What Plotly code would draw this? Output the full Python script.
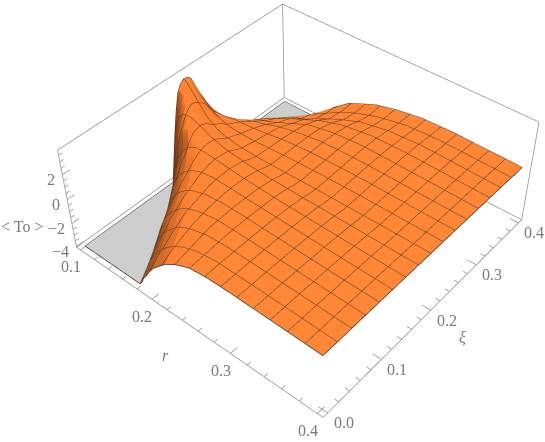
import plotly.graph_objects as go

# ---- data ----
xi_values = [0, .025, .05, .075, .1, .125, .15, .1625, .175, .18125, .1875, .19375, .2, .20625, .2125, .225, .25, .275, .3, .325, .35, .375, .4]
# smallest r drawn on each xi row (where the surface leaves the clipped floor or the r=0.1 edge)
r_start = [.178, .168, .157, .145, .135, .122, .109, .1, .1, .1, .1, .1, .1, .1, .1, .1, .1, .1, .1, .1, .115, .13, .145]
# fraction of the way from r_start to 0.4 for each column
r_fraction = [0, .015, .03, .05, .075, .1, .14, .18, .24, .32, .42, .54, .68, .84, 1]
to_values = [
    [-4, -3.7, -3.2, -2.8, -2.2, -1.7, -1.15, -.6, -.05, .45, .62, .62, .58, .52, .45],
    [-4, -3.5, -3, -2.5, -2, -1.5, -.9, -.4, .1, .5, .68, .65, .6, .52, .45],
    [-4, -3.4, -2.9, -2.3, -1.7, -1.2, -.6, -.1, .3, .62, .72, .68, .62, .53, .45],
    [-4, -3.3, -2.7, -2, -1.4, -.9, -.3, .15, .5, .75, .76, .7, .63, .53, .45],
    [-4, -3.2, -2.4, -1.7, -1, -.5, .05, .4, .7, .82, .8, .72, .63, .53, .45],
    [-4, -3, -2.1, -1.3, -.6, -.1, .45, .75, .92, .88, .8, .72, .62, .53, .45],
    [-4, -2.8, -1.6, -.6, .2, .7, 1.1, 1.15, 1.05, .9, .78, .68, .6, .52, .45],
    [-4, -1.8, -.4, .6, 1.2, 1.5, 1.5, 1.3, 1.05, .85, .72, .63, .57, .5, .45],
    [-.2, .8, 1.5, 1.9, 2, 1.9, 1.6, 1.25, .95, .75, .63, .58, .54, .49, .45],
    [1.5, 2.0, 2.3, 2.4, 2.2, 1.9, 1.45, 1.1, .8, .63, .55, .52, .5, .47, .45],
    [2.8, 2.9, 2.9, 2.7, 2.3, 1.85, 1.3, .95, .65, .52, .48, .47, .47, .46, .45],
    [3.3, 3.25, 3.0, 2.65, 2.1, 1.6, 1.05, .75, .52, .42, .42, .44, .45, .45, .44],
    [3.5, 3.3, 2.95, 2.5, 1.9, 1.35, .85, .6, .42, .36, .38, .42, .44, .44, .44],
    [3.45, 3.2, 2.8, 2.3, 1.7, 1.2, .72, .5, .36, .33, .37, .41, .44, .44, .44],
    [3.2, 2.9, 2.5, 2.0, 1.45, 1.02, .6, .42, .31, .32, .37, .42, .45, .45, .44],
    [1.8, 1.6, 1.3, 1.0, .65, .45, .25, .18, .18, .28, .38, .45, .48, .46, .44],
    [-.8, -.7, -.6, -.45, -.35, -.25, -.2, -.15, 0, .25, .42, .5, .52, .47, .44],
    [-2.2, -2.0, -1.8, -1.5, -1.25, -1.05, -.8, -.6, -.2, .15, .45, .56, .55, .48, .43],
    [-3.2, -2.9, -2.6, -2.3, -2, -1.75, -1.5, -1.2, -.7, 0, .4, .6, .58, .5, .43],
    [-4, -3.6, -3.2, -2.9, -2.6, -2.35, -2, -1.6, -1.1, -.4, .2, .55, .6, .52, .43],
    [-4, -3.7, -3.4, -3.1, -2.8, -2.55, -2.3, -2, -1.4, -.7, 0, .42, .58, .5, .42],
    [-4, -3.8, -3.5, -3.2, -2.9, -2.6, -2.2, -1.8, -1.2, -.6, -.05, .38, .52, .47, .4],
    [-4, -3.8, -3.5, -3.1, -2.7, -2.3, -1.8, -1.3, -.85, -.3, .1, .42, .5, .45, .4],
]
r_major = [.1, .2, .3, .4]
r_minor = [.12, .14, .16, .18, .22, .24, .26, .28, .32, .34, .36, .38]
xi_major = [0, .1, .2, .3, .4]
xi_minor = [.02, .04, .06, .08, .12, .14, .16, .18, .22, .24, .26, .28, .32, .34, .36, .38]
z_major = [-4, -2, 0, 2]
z_minor = [-3.5, -3, -2.5, -1.5, -1, -.5, .5, 1, 1.5, 2.5, 3, 3.5]
r_labels = ["0.1", "0.2", "0.3", "0.4"]
xi_labels = ["0.0", "0.1", "0.2", "0.3", "0.4"]
z_labels = ["\u22124", "\u22122", "0", "2"]

r_lo, r_hi = .094, .406
xi_lo, xi_hi = -.008, .408
z_lo, z_hi = -4.05, 3.9
R_END = .4
R_EDGE = .1
r_mesh_step = .01875
xi_mesh_step = .025

# axis ranges are 1% wider than the drawn box so that Plotly does not clip lines lying on its limits
PAD = .01
r_pad = (r_hi - r_lo) * PAD
xi_pad = (xi_hi - xi_lo) * PAD
z_pad = (z_hi - z_lo) * PAD
GROW = 1 + 2 * PAD

BOX = "#909090"
TEXT = "#7a7a7a"
MESH = "#503c2c"
EDGE = "#3c2c20"
FONT = "Liberation Serif"

R = [[s + (R_END - s) * f for f in r_fraction] for s in r_start]
Y = [[xi] * len(r_fraction) for xi in xi_values]

fig = go.Figure()
orange = "#fe8130"
fig.add_trace(go.Surface(
    x=R, y=Y, z=to_values, showscale=False, hoverinfo="skip",
    colorscale=[[0, orange], [1, orange]],
    lighting=dict(ambient=.35, diffuse=1, specular=.03, roughness=.6, fresnel=0),
    lightposition=dict(x=4500, y=6000, z=6600),
    contours=dict(
        x=dict(show=True, start=R_EDGE + r_mesh_step, end=R_END - r_mesh_step / 2, size=r_mesh_step,
               color=MESH, width=1, highlight=False),
        y=dict(show=True, start=xi_mesh_step, end=xi_values[-1] - xi_mesh_step / 2, size=xi_mesh_step,
               color=MESH, width=1, highlight=False),
        z=dict(highlight=False),
    ),
))


def line(x, y, z, color, width=1.5):
    fig.add_trace(go.Scatter3d(x=x, y=y, z=z, mode="lines", hoverinfo="skip", showlegend=False,
                               line=dict(color=color, width=width)))


def cap(rows):
    gx = [[R_EDGE, r_start[i]] for i in rows]
    gy = [[xi_values[i]] * 2 for i in rows]
    gz = [[-4, -4] for _ in rows]
    fig.add_trace(go.Surface(
        x=gx, y=gy, z=gz, showscale=False, hoverinfo="skip",
        colorscale=[[0, "#cdcdcd"], [1, "#cdcdcd"]],
        lighting=dict(ambient=1, diffuse=0, specular=0, roughness=1, fresnel=0),
    ))
    ex = [R_EDGE] * len(rows) + [r_start[i] for i in reversed(rows)] + [R_EDGE]
    ey = [xi_values[i] for i in rows] + [xi_values[i] for i in reversed(rows)] + [xi_values[rows[0]]]
    line(ex, ey, [-4] * len(ex), EDGE, 1.5)


front_rows = [i for i, s in enumerate(r_start) if xi_values[i] <= .1625]
back_rows = [i for i, s in enumerate(r_start) if xi_values[i] >= .325]
cap(front_rows)
cap(back_rows)

# outline of the surface
line(R[0], Y[0], to_values[0], EDGE)
line(R[-1], Y[-1], to_values[-1], EDGE)
line([row[0] for row in R], xi_values, [row[0] for row in to_values], EDGE)
line([row[-1] for row in R], xi_values, [row[-1] for row in to_values], EDGE)

# bounding box: only the edges that Mathematica kept
box_edges = [
    ((r_lo, xi_lo, z_lo), (r_hi, xi_lo, z_lo)),
    ((r_hi, xi_lo, z_lo), (r_hi, xi_hi, z_lo)),
    ((r_hi, xi_hi, z_lo), (r_lo, xi_hi, z_lo)),
    ((r_lo, xi_hi, z_lo), (r_lo, xi_lo, z_lo)),
    ((r_lo, xi_lo, z_lo), (r_lo, xi_lo, z_hi)),
    ((r_lo, xi_hi, z_lo), (r_lo, xi_hi, z_hi)),
    ((r_hi, xi_hi, z_lo), (r_hi, xi_hi, z_hi)),
    ((r_lo, xi_lo, z_hi), (r_lo, xi_hi, z_hi)),
    ((r_lo, xi_hi, z_hi), (r_hi, xi_hi, z_hi)),
]
for a, b in box_edges:
    line([a[0], b[0]], [a[1], b[1]], [a[2], b[2]], BOX)

# tick marks
for vals, n in ((r_major, .012), (r_minor, .006)):
    for v in vals:
        line([v, v], [xi_lo, xi_lo + n], [z_lo, z_lo], BOX)
for vals, n in ((xi_major, .01), (xi_minor, .005)):
    for v in vals:
        line([r_hi, r_hi - n], [v, v], [z_lo, z_lo], BOX)
for vals, n in ((z_major, .012), (z_minor, .006)):
    for v in vals:
        line([r_lo, r_lo], [xi_lo, xi_lo + n], [v, v], BOX)

font = dict(family=FONT, size=16, color=TEXT)
ann = []
for v, t in zip(r_major, r_labels):
    ann.append(dict(x=v, y=xi_lo, z=z_lo, text=t, showarrow=False, font=font, xshift=-10, yshift=-17))
for v, t in zip(xi_major, xi_labels):
    ann.append(dict(x=r_hi, y=v, z=z_lo, text=t, showarrow=False, font=font, xshift=16, yshift=-10))
for v, t in zip(z_major, z_labels):
    ann.append(dict(x=r_lo, y=xi_lo, z=v, text=t, showarrow=False, font=font, xanchor="right", xshift=-5, yshift=-5))
ann.append(dict(x=.25, y=xi_lo, z=z_lo, text="<i>r</i>", showarrow=False, font=font, xshift=-25, yshift=-30))
ann.append(dict(x=r_hi, y=.2, z=z_lo, text="<i>\u03be</i>", showarrow=False, font=font, xshift=32, yshift=-27))
ann.append(dict(x=r_lo, y=xi_lo, z=-1, text="&lt; To &gt;", showarrow=False, font=font, xshift=-48, yshift=-15))

hidden = dict(visible=False, showgrid=False, zeroline=False, showline=False, showticklabels=False,
              showbackground=False, showspikes=False, title="")
WIDTH, HEIGHT = 1000, 919
fig.update_layout(
    width=WIDTH, height=HEIGHT, margin=dict(l=0, r=0, t=0, b=0), showlegend=False,
    paper_bgcolor="white",
    scene=dict(
        domain=dict(x=[0, 1], y=[0, 1]),
        xaxis=dict(hidden, range=[r_lo - r_pad, r_hi + r_pad]),
        yaxis=dict(hidden, range=[xi_lo - xi_pad, xi_hi + xi_pad]),
        zaxis=dict(hidden, range=[z_lo - z_pad, z_hi + z_pad]),
        aspectmode="manual", aspectratio=dict(x=GROW, y=GROW, z=.4 * GROW),
        camera=dict(
            eye=dict(x=1.622, y=-1.910, z=2.271),
            center=dict(x=-.0785, y=-.0364, z=.0293),
            up=dict(x=-.425, y=.509, z=.749),
            projection=dict(type="perspective"),
        ),
        annotations=ann,
    ),
)

# the camera lens is fixed in Plotly, so the scene is drawn larger than the window and shifted
post = """
var gd=document.getElementById('{plot_id}');
document.documentElement.style.overflow='hidden';
document.body.style.overflow='hidden';
document.body.style.margin='0';
gd.style.position='absolute';
gd.style.left='-227px';
gd.style.top='-285px';
"""
fig.write_html("out.html", post_script=post)
